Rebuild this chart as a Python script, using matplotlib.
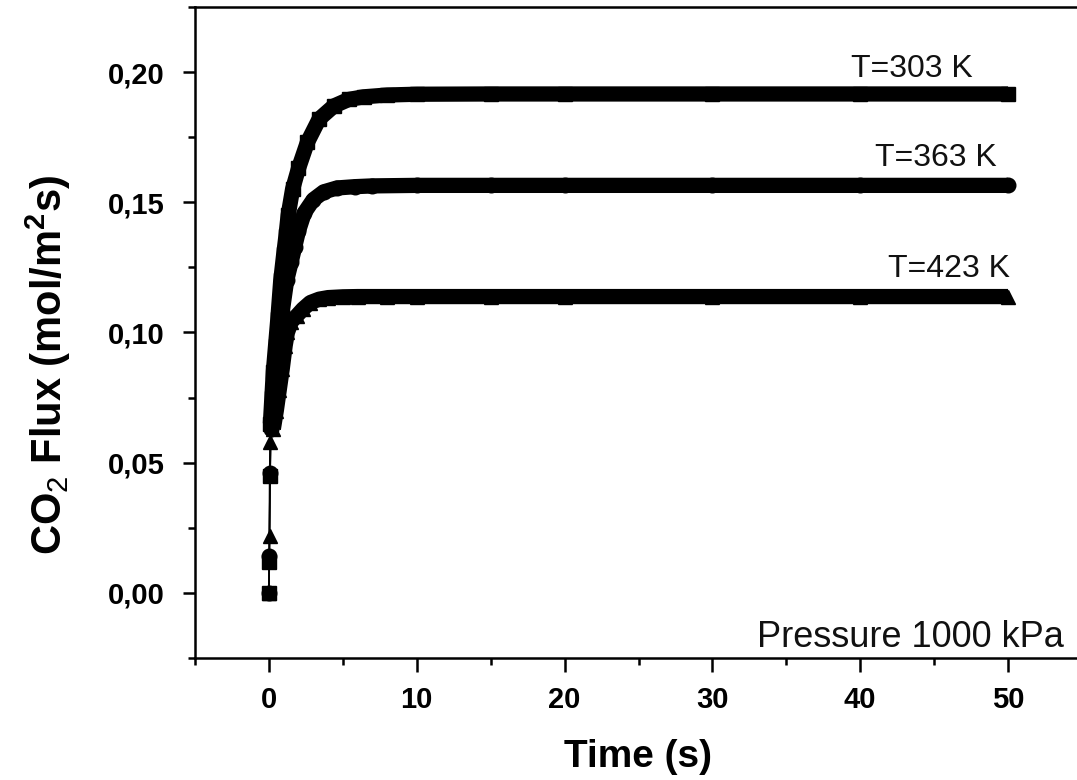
import matplotlib
matplotlib.use("Agg")
import matplotlib.pyplot as plt
import numpy as np
from matplotlib.ticker import MultipleLocator, FuncFormatter

# ---------------- data ----------------
time_303 = [0, 0.02, 0.05, 0.1, 0.2, 0.3, 0.45, 0.6, 0.8, 1.0, 1.15, 1.3, 1.6, 2.0, 2.6,
            3.4, 4.4, 5.4, 6.4, 8, 10, 15, 20, 30, 40, 50]
flux_303 = [0, 0.012, 0.045, 0.065, 0.075, 0.085, 0.095, 0.105, 0.12, 0.13, 0.137, 0.145,
            0.155, 0.163, 0.173, 0.182, 0.187, 0.1895, 0.1905, 0.1912, 0.1915, 0.1916,
            0.1916, 0.1916, 0.1916, 0.1916]

time_363 = [0, 0.03, 0.08, 0.15, 0.25, 0.4, 0.6, 0.9, 1.2, 1.5, 1.75, 2.0, 2.4, 3.0, 3.7,
            4.6, 5.8, 7, 10, 15, 20, 30, 40, 50]
flux_363 = [0, 0.014, 0.046, 0.063, 0.072, 0.082, 0.092, 0.108, 0.12, 0.127, 0.133, 0.139,
            0.146, 0.151, 0.154, 0.1555, 0.156, 0.1563, 0.1565, 0.1565, 0.1565, 0.1565,
            0.1565, 0.1565]

time_423 = [0, 0.04, 0.1, 0.3, 0.5, 0.7, 0.9, 1.1, 1.25, 1.5, 1.9, 2.3, 2.8, 3.4, 4.0,
            5.0, 6, 8, 10, 15, 20, 30, 40, 50]
flux_423 = [0, 0.022, 0.058, 0.063, 0.07, 0.078, 0.086, 0.095, 0.1, 0.104, 0.1065, 0.109,
            0.1115, 0.1128, 0.1134, 0.1137, 0.1138, 0.1138, 0.1138, 0.1138, 0.1138,
            0.1138, 0.1138, 0.1138]

series_labels = ["T=303 K", "T=363 K", "T=423 K"]
x_ticks = [0, 10, 20, 30, 40, 50]
y_ticks = [0.00, 0.05, 0.10, 0.15, 0.20]

# ---------------- figure ----------------
plt.rcParams['mathtext.fontset'] = 'custom'
plt.rcParams['mathtext.rm'] = 'Liberation Sans'
plt.rcParams['mathtext.bf'] = 'Liberation Sans:bold'
plt.rcParams['font.family'] = ['Liberation Sans', 'DejaVu Sans']

fig = plt.figure(figsize=(10.77, 7.80), dpi=100)
ax = fig.add_axes([195 / 1077, 1 - 658 / 780, (1082 - 195) / 1077, (658 - 7) / 780])

MS = 10.5
BAND = 11.0
series = [(time_303, flux_303, 's'), (time_363, flux_363, 'o'), (time_423, flux_423, '^')]
for t, f, m in series:
    t = np.asarray(t)
    f = np.asarray(f)
    ax.plot(t, f, color='black', lw=1.2, marker=m, ms=MS, mfc='black', mec='black',
            zorder=3)
    dense = f >= 0.06
    ax.plot(t[dense], f[dense], color='black', lw=BAND, solid_capstyle='butt',
            solid_joinstyle='round', zorder=3)

ax.set_xlim(-5, 55)
ax.set_ylim(-0.025, 0.225)
ax.set_xticks(x_ticks)
ax.set_yticks(y_ticks)
ax.xaxis.set_minor_locator(MultipleLocator(5))
ax.yaxis.set_minor_locator(MultipleLocator(0.025))
ax.yaxis.set_major_formatter(FuncFormatter(lambda v, p: f"{v:.2f}".replace('.', ',')))
ax.xaxis.set_major_formatter(FuncFormatter(lambda v, p: f"{v:.0f}"))

for s in ax.spines.values():
    s.set_linewidth(1.8)
ax.tick_params(which='major', direction='out', length=10, width=1.8, top=False, right=False)
ax.tick_params(which='minor', direction='out', length=5, width=1.8, top=False, right=False)
ax.tick_params(axis='y', which='major', length=9, pad=13)
ax.tick_params(axis='x', pad=10)

for lab in ax.get_yticklabels():
    lab.set_fontsize(21)
    lab.set_fontweight('bold')
for lab in ax.get_xticklabels():
    lab.set_fontsize(21)
    lab.set_fontweight('bold')

ax.set_xlabel("Time (s)", fontsize=28, fontweight='bold')
ax.xaxis.set_label_coords(0.5, -0.124)
ax.set_ylabel(r"CO$_{2}$ Flux (mol/m$^{\mathbf{2}}$s)", fontsize=30, fontweight='bold')
ax.yaxis.set_label_coords(-0.138, 0.45)

label_pos = [(47.6, 0.198), (49.2, 0.1638), (50.1, 0.1215)]
for (x, y), txt in zip(label_pos, series_labels):
    ax.text(x, y, txt, ha='right', va='baseline', fontsize=23, color='#111111')

ax.text(53.8, -0.0208, "Pressure 1000 kPa", ha='right', va='baseline', fontsize=26,
        color='#111111')

fig.savefig("out.png", dpi=100)
